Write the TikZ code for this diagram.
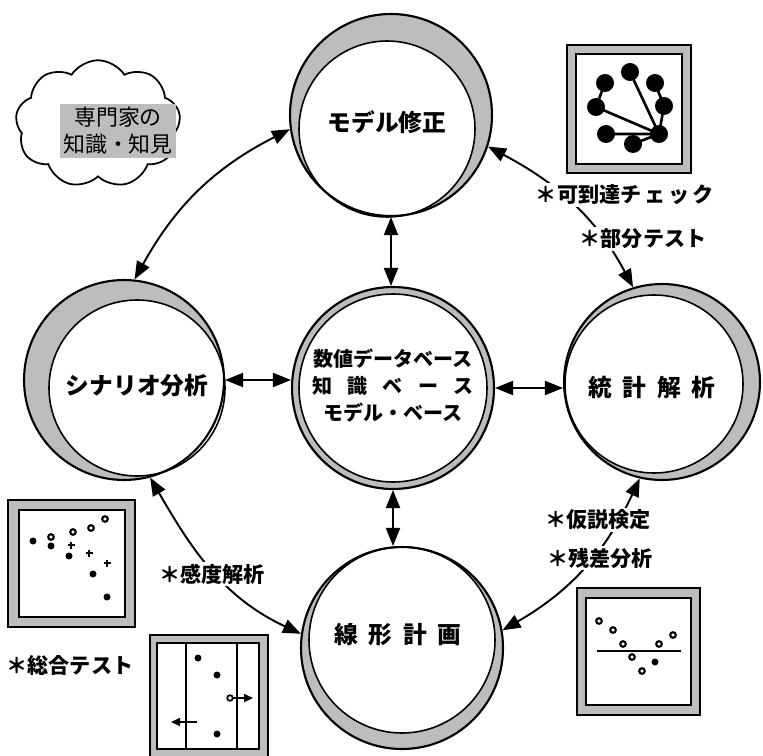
\documentclass[tikz,border=0pt]{standalone}
\usepackage{fontspec}
\newfontfamily\cjk{Noto Sans CJK JP}
\usetikzlibrary{arrows.meta,shapes.symbols}
\definecolor{stipple}{gray}{0.74}

\begin{document}
\begin{tikzpicture}[x=0.02cm,y=-0.02cm,
    stage/.style={circle, draw, line width=1.2pt, inner sep=0pt, minimum size=4.04cm},
    stagetext/.style={font=\cjk\bfseries\fontsize{13.5}{16}\selectfont},
    tag/.style={fill=white, inner sep=1pt, font=\cjk\bfseries\fontsize{12}{14}\selectfont},
    biarrow/.style={line width=1.1pt, {Triangle[length=3.6mm,width=2.8mm]}-{Triangle[length=3.6mm,width=2.8mm]}},
    iconframe/.style={draw, line width=1pt, fill=stipple},
    iconface/.style={draw, line width=.8pt, fill=white}]
  \useasboundingbox (0,0) rectangle (763,756);

  % crescents: outer x/y/r, inner x/y/r
  \foreach \cx/\cy/\ro/\ix/\iy/\ri in {391/115/102/387/129/88, 124/380/100/137/388/88,
      662/382/98/654/384/89, 402/648/102/402/640/93, 393/388/102/393/388/94}{
    \fill[stipple] (\cx,\cy) circle (\ro);
    \filldraw[fill=white, line width=.9pt] (\ix,\iy) circle (\ri);
  }
  \node[stage] (model) at (391,115) {};
  \node[stage, minimum size=4cm] (scen) at (124,380) {};
  \node[stage, minimum size=3.92cm] (stat) at (662,382) {};
  \node[stage] (lp) at (402,648) {};
  \node[stage] (db) at (393,388) {};

  \node[stagetext] (modeltxt) at (387,122) {モデル修正};
  \node[stagetext] (scentxt) at (137,386) {シナリオ分析};
  \node[stagetext] (stattxt) at (652,387) {統\hspace{.45em}計\hspace{.45em}解\hspace{.45em}析};
  \node[stagetext] (lptxt) at (398,635) {線\hspace{.45em}形\hspace{.45em}計\hspace{.45em}画};
  \node[stagetext, font=\cjk\bfseries\fontsize{11.4}{15.4}\selectfont, align=center] (dbtxt) at (393,386)
    {数値データベース\\\makebox[8em][s]{知\hfill 識\hfill ベ\hfill ー\hfill ス}\\モデル・ベース};

  % straight links to the base
  \draw[biarrow] (model.south) -- (model.south |- db.north);
  \draw[biarrow] (scen.east) -- (db.west |- scen.east);
  \draw[biarrow] (db.east) -- (db.east -| stat.west);
  \draw[biarrow] (db.south) -- (db.south |- lp.north);

  % curved links
  \draw[biarrow] (scen.84) to[out=61, in=207] (model.188);
  \draw[biarrow] (model.-18) to[out=-28, in=118] (stat.107);
  \draw[biarrow] (stat.257) to[out=245, in=30] (lp.10);
  \draw[biarrow] (scen.285) to[out=-60, in=155] (lp.172);

  \node[tag] (reach) at (625,195) {＊可到達チ\hspace{.15em}ェ\hspace{.15em}ッ\hspace{.15em}ク};
  \node[tag] (parttest) at (643,239) {＊部分テスト};
  \node[tag] (hypo) at (598,520) {＊仮説検定};
  \node[tag] (resid) at (600,558) {＊残差分析};
  \node[tag] (sens) at (212,574) {＊感度解析};
  \node[tag] (total) at (70,665) {＊総合テスト};

  % expert cloud
  \node[cloud, draw, line width=1pt, cloud puffs=9, cloud puff arc=115, aspect=1.3,
    minimum width=3.3cm, minimum height=2.55cm] (cloud) at (98,124) {};
  \node[fill=stipple, inner sep=2pt, align=center, font=\cjk\fontsize{12.5}{15.3}\selectfont] (expert) at (118,131)
    {専門家の\\知識・知見};

  % network icon
  \filldraw[iconframe] (567,45) rectangle (691,173);
  \filldraw[iconface] (576,54) rectangle (682,164);
  \draw[line width=1.5pt] (659,134) -- (630,72) (659,134) -- (596,107) (659,134) -- (606,134)
    (659,134) -- (633,144) (659,134) -- (664,106) (605,83) -- (596,107) (655,83) -- (664,106);
  \foreach \p in {(630,72),(605,83),(655,83),(596,107),(664,106),(606,134),(633,144),(659,134)}
    \fill \p circle (9);

  % scatter icon
  \filldraw[iconframe] (8,500) rectangle (135,627);
  \filldraw[iconface] (19,510) rectangle (125,617);
  \foreach \p in {(33,541),(69,556),(93,574),(107,597),(51,546)}
    \fill \p circle (3.5);
  \foreach \p in {(51,537),(73,532),(105,519),(91,528)}
    \draw[line width=1.2pt] \p circle (2.8);
  \foreach \p in {(71,545),(89,553),(107,563)}
    \draw[line width=1pt] \p ++(-3.5,0) -- ++(7,0) \p ++(0,-3.5) -- ++(0,7);

  % sensitivity icon
  \filldraw[iconframe] (150,635) rectangle (268,762);
  \filldraw[iconface] (157,643) rectangle (259,749);
  \draw[line width=1pt] (186,643) -- (186,749) (237,643) -- (237,749);
  \foreach \p in {(198,658),(217,675),(217,734)}
    \fill \p circle (3.5);
  \draw[line width=1.2pt, -{Triangle[length=1.8mm,width=1.6mm]}] (197,722) -- (171,722);
  \draw[line width=1.2pt, -{Triangle[length=1.8mm,width=1.6mm]}] (233,698) -- (253,698);
  \filldraw[fill=white, line width=1pt] (230,698) circle (2.8);

  % residual icon
  \filldraw[iconframe] (577,588) rectangle (700,715);
  \filldraw[iconface] (586,598) rectangle (691,705);
  \draw[line width=1pt] (597,651) -- (681,651);
  \foreach \p in {(599,621),(613,630),(623,644),(632,657),(642,671),(659,644),(673,635)}
    \draw[line width=1.2pt] \p circle (2.8);
  \fill (655,662) circle (3.5);
\end{tikzpicture}
\end{document}
